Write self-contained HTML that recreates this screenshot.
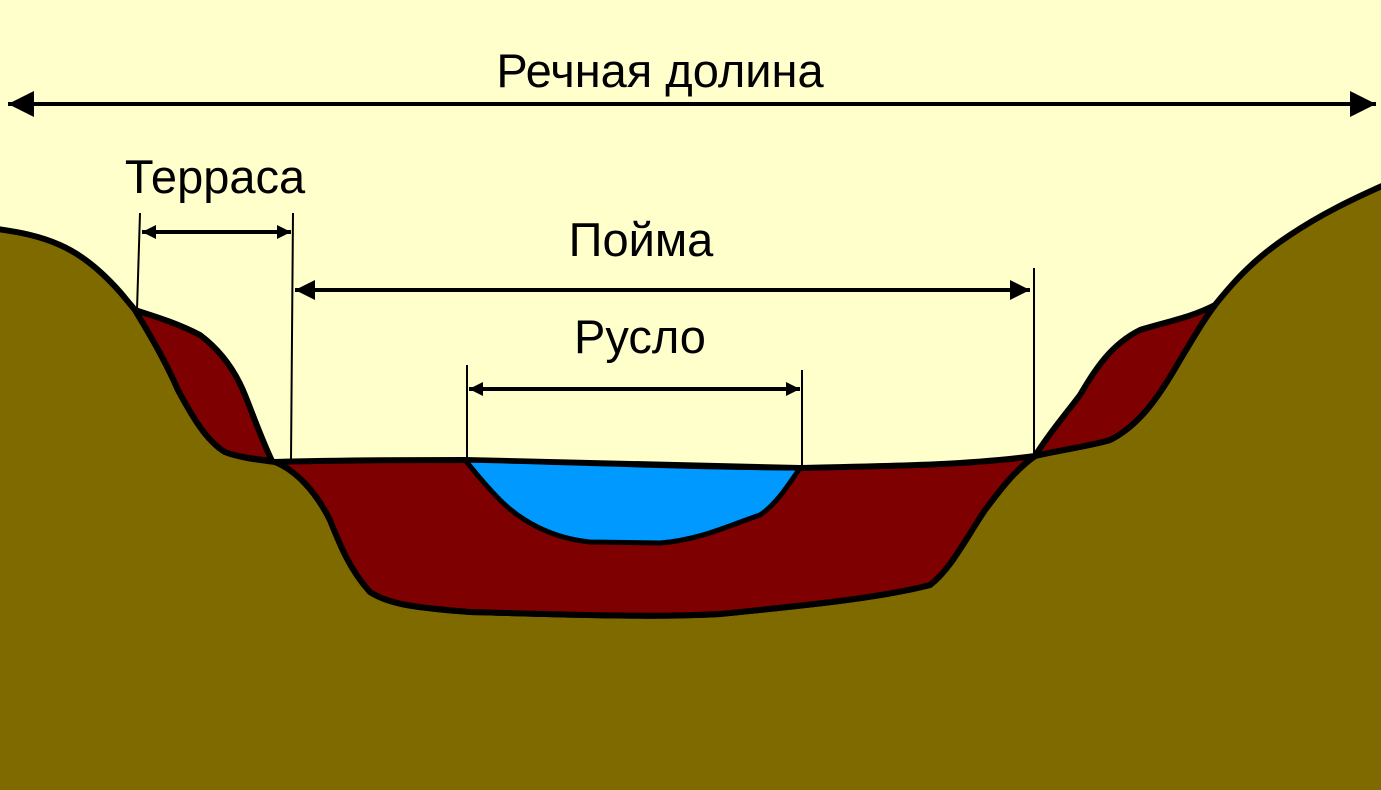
<!DOCTYPE html>
<html><head><meta charset="utf-8"><style>html,body{margin:0;padding:0;background:#FFFFCC}svg{display:block}</style></head>
<body>
<svg width="1381" height="790" viewBox="0 0 1381 790" xmlns="http://www.w3.org/2000/svg">
<defs>
<marker id="b" viewBox="0 0 10 10" refX="10" refY="5" markerWidth="36" markerHeight="26" orient="auto-start-reverse" markerUnits="userSpaceOnUse"><path d="M0,0L10,5L0,10z" fill="#000"/></marker>
<marker id="c" viewBox="0 0 10 10" refX="10" refY="5" markerWidth="24" markerHeight="20" orient="auto-start-reverse" markerUnits="userSpaceOnUse"><path d="M0,0L10,5L0,10z" fill="#000"/></marker>
<marker id="d" viewBox="0 0 10 10" refX="10" refY="5" markerWidth="14" markerHeight="16" orient="auto-start-reverse" markerUnits="userSpaceOnUse"><path d="M0,0L10,5L0,10z" fill="#000"/></marker>
</defs>
<rect width="1381" height="790" fill="#FFFFCC"/>
<path d="M-10,228 C20,232 40,236 60,245 C85,256 105,275 120,292 L135,310 C150,335 165,360 178,390 C190,412 205,440 225,452 C240,458 260,460 275,462 C295,470 315,490 330,520 C340,545 350,570 370,592 C390,605 420,608 470,612 C550,614 650,618 720,614 C800,606 880,598 930,585 C950,570 965,540 985,510 C1000,490 1015,470 1035,456 C1060,450 1090,446 1110,440 C1140,425 1160,395 1180,360 C1195,335 1205,318 1215,305 C1235,280 1255,258 1290,235 C1320,215 1350,200 1391,182 L1391,800 L-10,800 Z" fill="#7F6A00" stroke="#000" stroke-width="6"/>
<path d="M135,310 C150,315 175,322 200,335 C220,350 235,370 245,395 C255,420 262,440 272,461 C255,459 238,457 225,452 C205,440 190,412 178,390 C165,360 150,335 135,310 Z" fill="#7F0000" stroke="#000" stroke-width="6"/>
<path d="M1035,456 C1050,432 1065,415 1080,395 C1095,370 1110,345 1140,330 C1165,322 1190,318 1215,305 C1205,318 1195,335 1180,360 C1160,395 1140,425 1110,440 C1090,446 1060,450 1035,456 Z" fill="#7F0000" stroke="#000" stroke-width="6"/>
<path d="M275,462 C350,460 420,460 465,460 L800,468 C880,466 960,466 1035,456 C1015,470 1000,490 985,510 C965,540 950,570 930,585 C880,598 800,606 720,614 C650,618 550,614 470,612 C420,608 390,605 370,592 C350,570 340,545 330,520 C315,490 295,470 275,462 Z" fill="#7F0000" stroke="#000" stroke-width="6"/>
<path d="M465,460 C560,462 700,468 800,468 C785,490 775,505 760,515 C730,525 700,540 660,543 L590,542 C550,538 520,520 500,500 C485,485 475,472 465,460 Z" fill="#0099FF" stroke="#000" stroke-width="5"/>
<g stroke="#000" stroke-width="2" fill="none">
<line x1="140" y1="213" x2="137" y2="310"/>
<line x1="293" y1="213" x2="291" y2="460"/>
<line x1="1034" y1="268" x2="1034" y2="455"/>
<line x1="467" y1="365" x2="467" y2="460"/>
<line x1="802" y1="370" x2="802" y2="468"/>
</g>
<g stroke="#000" stroke-width="4">
<line x1="8" y1="104" x2="1376" y2="104" marker-start="url(#b)" marker-end="url(#b)"/>
<line x1="142" y1="232" x2="291" y2="232" marker-start="url(#d)" marker-end="url(#d)"/>
<line x1="295" y1="290" x2="1030" y2="290" marker-start="url(#c)" marker-end="url(#c)"/>
<line x1="469" y1="389" x2="800" y2="389" marker-start="url(#d)" marker-end="url(#d)"/>
</g>
<g font-family="Liberation Sans, sans-serif" font-size="47" text-anchor="middle" fill="#000">
<text x="660" y="87">Речная долина</text>
<text x="215" y="193">Терраса</text>
<text x="641" y="256">Пойма</text>
<text x="640" y="353">Русло</text>
</g>
</svg>
</body></html>
